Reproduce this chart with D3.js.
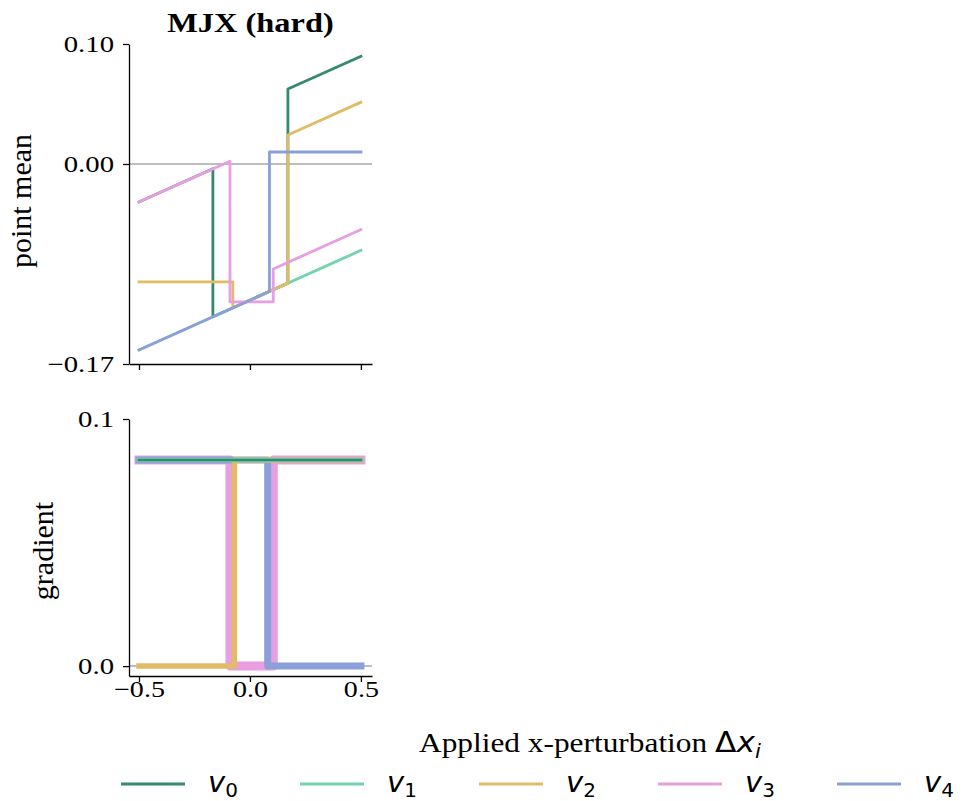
<!DOCTYPE html>
<html>
<head>
<meta charset="utf-8">
<script src="https://cdn.jsdelivr.net/npm/d3@7"></script>
<style>
  body { margin: 0; background: #fff; }
  svg { display: block; }
</style>
</head>
<body>
<div id="chart"></div>
<script>
// series names (rendered as v with subscript index)
var seriesNames = ["v0", "v1", "v2", "v3", "v4"];
var seriesColors = ["#35896f", "#72d3ac", "#e2bb66", "#e89ee0", "#8b9fd8"];

// top panel: point mean vs applied perturbation
var meanX = [
  [-0.5, -0.167, -0.167, 0.171, 0.171, 0.5],
  [-0.5, 0.5],
  [-0.5, -0.077, -0.077, 0.171, 0.171, 0.5],
  [-0.5, -0.09, -0.09, 0.105, 0.105, 0.5],
  [-0.5, 0.088, 0.088, 0.5]
];
var meanY = [
  [-0.0317, -0.0040, -0.1273, -0.0993, 0.0625, 0.0898],
  [-0.155, -0.072],
  [-0.0983, -0.0983, -0.1199, -0.0993, 0.0242, 0.0515],
  [-0.0317, 0.0023, -0.115, -0.115, -0.0875, -0.0547],
  [-0.155, -0.1062, 0.010, 0.010]
];

// bottom panel: gradient vs applied perturbation
var gradX = [
  [-0.5, 0.5],
  [-0.5, 0.5],
  [-0.5, -0.07, -0.07, 0.5],
  [-0.5, -0.09, -0.09, 0.105, 0.105, 0.5],
  [-0.5, 0.08, 0.08, 0.5]
];
var gradY = [
  [0.0834, 0.0834],
  [0.0834, 0.0834],
  [0, 0, 0.0834, 0.0834],
  [0.0834, 0.0834, 0, 0, 0.0834, 0.0834],
  [0.0834, 0.0834, 0, 0]
];

// axis limits and ticks
var xDomain = [-0.545, 0.55];
var xTicks = [-0.5, 0.0, 0.5];
var xTickLabels = ["\u22120.5", "0.0", "0.5"];
var meanDomain = [-0.1667, 0.1];
var meanTicks = [0.1, 0.0, -0.1667];
var meanTickLabels = ["0.10", "0.00", "\u22120.17"];
var gradDomain = [-0.004, 0.1];
var gradTicks = [0.1, 0.0];
var gradTickLabels = ["0.1", "0.0"];

var W = 963, H = 801;
var serif = "'Liberation Serif', 'Times New Roman', serif";
var sans = "'DejaVu Sans', sans-serif";

var svg = d3.select("#chart").append("svg")
    .attr("width", W)
    .attr("height", H);

var x = d3.scaleLinear().domain(xDomain).range([129, 372]);
var yMean = d3.scaleLinear().domain(meanDomain).range([364, 44]);
var yGrad = d3.scaleLinear().domain(gradDomain).range([676, 419]);

function series(xs, ys) {
    return xs.map(function(v, i) { return [v, ys[i]]; });
}

// the reference text is a bit wider than the font, stretch it horizontally
function stretch(sel, sx, origin) {
    sel.style("transform", "scaleX(" + sx + ")")
        .style("transform-box", "fill-box")
        .style("transform-origin", origin);
}

function drawPanel(y, xsAll, ysAll, widths, order, ticks, tickLabels, showXLabels) {
    var g = svg.append("g");

    // zero reference line
    g.append("line")
        .attr("x1", x.range()[0]).attr("x2", x.range()[1])
        .attr("y1", y(0)).attr("y2", y(0))
        .attr("stroke", "#a9a9a9")
        .attr("stroke-width", 1.5);

    var line = d3.line()
        .x(function(d) { return x(d[0]); })
        .y(function(d) { return y(d[1]); });

    order.forEach(function(i) {
        g.append("path")
            .datum(series(xsAll[i], ysAll[i]))
            .attr("d", line)
            .attr("fill", "none")
            .attr("stroke", seriesColors[i])
            .attr("stroke-width", widths[i])
            .attr("stroke-linecap", "square")
            .attr("stroke-linejoin", "round");
    });

    var yAxis = g.append("g")
        .attr("transform", "translate(" + x.range()[0] + ",0)")
        .call(d3.axisLeft(y)
            .tickValues(ticks)
            .tickFormat(function(d, i) { return tickLabels[i]; })
            .tickSize(6)
            .tickSizeOuter(0)
            .tickPadding(9));

    var xAxis = g.append("g")
        .attr("transform", "translate(0," + y.range()[0] + ")")
        .call(d3.axisBottom(x)
            .tickValues(xTicks)
            .tickFormat(function(d, i) { return showXLabels ? xTickLabels[i] : ""; })
            .tickSize(6)
            .tickSizeOuter(0)
            .tickPadding(-1));

    [yAxis, xAxis].forEach(function(ax) {
        ax.select(".domain").attr("stroke", "#000").attr("stroke-width", 1.3);
        ax.selectAll(".tick line").attr("stroke", "#000").attr("stroke-width", 1.3);
        ax.selectAll(".tick text")
            .attr("fill", "#000")
            .style("font-family", serif)
            .style("font-size", "23px");
    });
    stretch(yAxis.selectAll(".tick text"), 1.25, "right center");
    stretch(xAxis.selectAll(".tick text"), 1.22, "center");
}

drawPanel(yMean, meanX, meanY, [2.8, 2.8, 2.8, 2.8, 2.8], [0, 1, 2, 3, 4],
          meanTicks, meanTickLabels, false);

// thick bands in the gradient panel, widest drawn first
var gradWidths = [2.5, 4.5, 5.5, 9, 7];
var gradOrder = d3.range(seriesNames.length).sort(function(a, b) { return gradWidths[b] - gradWidths[a]; });
drawPanel(yGrad, gradX, gradY, gradWidths, gradOrder, gradTicks, gradTickLabels, true);

// title
svg.append("text")
    .attr("transform", "translate(250.5,32) scale(1.2,1)")
    .attr("text-anchor", "middle")
    .style("font-family", serif)
    .style("font-weight", "bold")
    .style("font-size", "27px")
    .text("MJX (hard)");

// y labels
svg.append("text")
    .attr("transform", "translate(31,201) rotate(-90)")
    .attr("text-anchor", "middle")
    .style("font-family", serif)
    .style("font-size", "30px")
    .text("point mean");

svg.append("text")
    .attr("transform", "translate(53,551) rotate(-90)")
    .attr("text-anchor", "middle")
    .style("font-family", serif)
    .style("font-size", "30px")
    .text("gradient");

// x label, with the math part in sans
var xl = svg.append("text")
    .attr("x", 590)
    .attr("y", 752)
    .attr("text-anchor", "middle")
    .style("font-size", "28px");
xl.append("tspan").style("font-family", serif).text("Applied x-perturbation ");
xl.append("tspan").style("font-family", sans).text("\u0394");
xl.append("tspan").style("font-family", sans).style("font-style", "italic").text("x");
xl.append("tspan").style("font-family", sans).style("font-style", "italic")
    .style("font-size", "19px").attr("dy", 6).text("i");
stretch(xl, 1.12, "center");

// legend
var legend = svg.append("g").attr("transform", "translate(121,784)");
var item = legend.selectAll("g.item")
    .data(seriesNames)
    .enter().append("g")
    .attr("class", "item")
    .attr("transform", function(d, i) { return "translate(" + (i * 179) + ",0)"; });

item.append("line")
    .attr("x1", 0).attr("x2", 64)
    .attr("y1", 0).attr("y2", 0)
    .attr("stroke", function(d, i) { return seriesColors[i]; })
    .attr("stroke-width", 2.8);

var lt = item.append("text")
    .attr("x", 87)
    .attr("y", 8)
    .style("font-family", sans)
    .style("font-size", "29px");
lt.append("tspan").style("font-style", "italic").text(function(d) { return d.charAt(0); });
lt.append("tspan").attr("dy", 5).style("font-size", "20px").text(function(d) { return d.slice(1); });
</script>
</body>
</html>
